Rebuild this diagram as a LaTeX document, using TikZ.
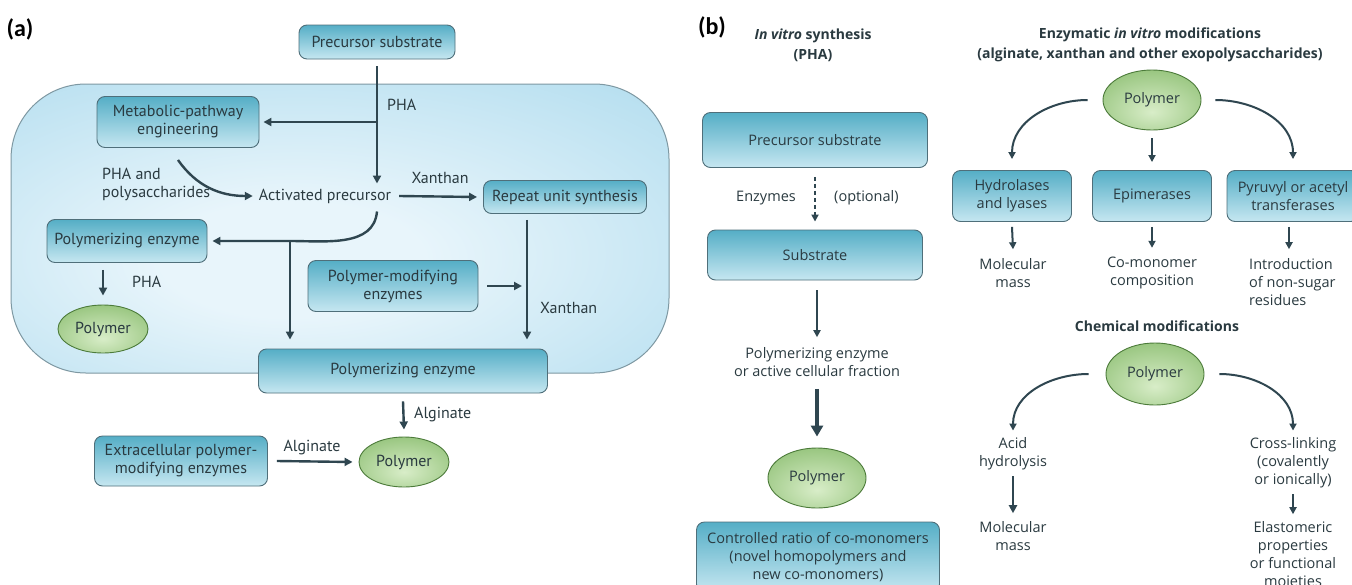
\documentclass[tikz,border=0pt]{standalone}
\usepackage{fontspec}
\setmainfont{PT Sans}
\newfontfamily\rfont{Open Sans}
\newfontfamily\labfont{Carlito}
\usetikzlibrary{arrows.meta,shapes.geometric}
\definecolor{boxtop}{HTML}{55AEC6}
\definecolor{boxbot}{HTML}{C6E7F1}
\definecolor{boxline}{HTML}{4F6F7A}
\definecolor{arrc}{HTML}{2F4650}
\definecolor{txt}{HTML}{2A3A40}
\definecolor{cellin}{HTML}{E8F5FB}
\definecolor{cellout}{HTML}{95D0E8}
\definecolor{cellline}{HTML}{7E98A2}
\definecolor{grin}{HTML}{D8EDC8}
\definecolor{grout}{HTML}{65A645}
\definecolor{grline}{HTML}{4C7B3A}
\pgfdeclareradialshading{cellshade}{\pgfpoint{-4bp}{-6bp}}{color(0bp)=(cellin); color(10bp)=(cellin); color(45bp)=(cellout!75!cellin); color(60bp)=(cellout); color(100bp)=(cellout)}
\pgfdeclareradialshading{polyshade}{\pgfpoint{0bp}{-10bp}}{color(0bp)=(grin); color(38bp)=(grout!65!grin); color(50bp)=(grout); color(100bp)=(grout)}
\begin{document}
\begin{tikzpicture}[x=1pt,y=-1pt,
  lt/.style={font=\fontsize{16}{18}\selectfont, text=txt, inner sep=2pt},
  rf/.style={font=\rfont\fontsize{14.5}{18}\selectfont, text=txt, inner sep=2pt, align=center},
  rtitle/.style={font=\rfont\bfseries\fontsize{14}{20}\selectfont, text=txt, inner sep=2pt, align=center},
  boxbase/.style={draw=boxline, line width=0.9pt, rounded corners=8pt, top color=boxtop, bottom color=boxbot, text=txt, align=center, inner sep=2pt},
  lbox/.style={boxbase, font=\fontsize{16}{18}\selectfont},
  rbox/.style={boxbase, font=\rfont\fontsize{14.5}{18}\selectfont},
  poly/.style={ellipse, draw=grline, line width=0.9pt, shade, shading=polyshade, text=txt, inner sep=0pt},
  arr/.style={draw=arrc, line width=2.4pt, -{Triangle[length=8pt,width=8pt]}},
  rarr/.style={draw=arrc, line width=2pt, -{Triangle[length=7pt,width=7pt]}},
  rarrb/.style={draw=arrc, line width=2.6pt, -{Triangle[length=8pt,width=8pt]}},
  rthick/.style={draw=arrc, line width=4pt, -{Triangle[length=11pt,width=12pt]}},
  lab/.style={font=\labfont\bfseries\fontsize{24}{26}\selectfont, text=black}
]
\useasboundingbox (0,0) rectangle (1352,584);
\clip (0,0) rectangle (1352,584);
\fill[white] (0,0) rectangle (1352,584);

% ---------------- panel (a) ----------------
\node[lab] (la) at (20,29) {(a)};
\path[shade, shading=cellshade, draw=cellline, line width=1pt, rounded corners=75pt] (11,84) rectangle (669,373);
\node[lbox, minimum width=156pt, minimum height=34pt] (ps) at (377,42) {Precursor substrate};
\node[lbox, minimum width=162pt, minimum height=51pt] (mpe) at (178,122) {Metabolic-pathway\\engineering};
\node[lt] (act) at (325,196) {Activated precursor};
\node[lbox, minimum width=163pt, minimum height=33pt] (rus) at (565,197) {Repeat unit synthesis};
\node[lbox, minimum width=160pt, minimum height=43pt] (pe1) at (127,241) {Polymerizing enzyme};
\node[lbox, minimum width=170pt, minimum height=51pt] (pme) at (393,286) {Polymer-modifying\\enzymes};
\node[poly, font=\fontsize{16}{18}\selectfont, minimum width=90pt, minimum height=48pt] (pol1) at (103,329) {Polymer};
\node[lbox, minimum width=289pt, minimum height=44pt] (pe2) at (403,371) {Polymerizing enzyme};
\node[poly, font=\fontsize{16}{18}\selectfont, minimum width=90pt, minimum height=50pt] (pol2) at (404,462) {Polymer};
\node[lbox, minimum width=173pt, minimum height=50pt] (epm) at (181,461) {Extracellular polymer-\\modifying enzymes};

\draw[arr, shorten >=3pt] ([yshift=-7pt]ps.south) -- (ps.south |- act.north);
\coordinate (br) at (ps.south |- mpe.east);
\draw[arr] (br) -- ([xshift=4pt]mpe.east);
\node[lt, anchor=west] (lpha1) at (385,105) {PHA};
\draw[arr] ([yshift=-12pt]mpe.south) to[out=-55,in=180] ([xshift=-4pt]act.west);
\node[lt, anchor=west, align=left] (lphap) at (100,184) {PHA and\\polysaccharides};
\draw[arr] ([xshift=6pt]act.east) -- ([xshift=-6pt]rus.west);
\node[lt] (lx1) at (440,178) {Xanthan};
\coordinate (jn) at (290,241);
\draw[arr] ([yshift=-6pt]act.south -| ps.south) to[out=-95,in=0] (jn) -- ([xshift=5pt]pe1.east);
\draw[arr] (jn) -- ([yshift=9pt]pe2.north -| jn);
\coordinate (xr) at ([xshift=-38pt]rus.south);
\draw[arr] ([yshift=-6pt]xr) -- ([yshift=9pt]xr |- pe2.north);
\draw[arr] ([xshift=9pt]pme.east) -- ([xshift=-5pt]pme.east -| xr);
\node[lt, anchor=west] (lx2) at (538,308) {Xanthan};
\draw[arr] ([yshift=-7pt]pe1.south -| pol1.north) -- ([yshift=9pt]pol1.north);
\node[lt, anchor=west] (lpha2) at (130,282) {PHA};
\draw[arr] ([yshift=-8pt]pe2.south) -- ([yshift=7pt]pol2.north);
\node[lt, anchor=west] (lal1) at (412,415) {Alginate};
\draw[arr] ([xshift=9pt]epm.east) -- ([xshift=-6pt]pol2.west);
\node[lt] (lal2) at (312,448) {Alginate};

% ---------------- panel (b) ----------------
\node[lab] (lb) at (712,27) {(b)};
\node[rtitle] (tvit) at (813,45) {\textit{In vitro} synthesis\\(PHA)};
\node[rbox, minimum width=225pt, minimum height=55pt] (rps) at (815,140) {Precursor substrate};
\node[rbox, minimum width=215pt, minimum height=50pt] (rsub) at (815,255) {Substrate};
\draw[rarr, dash pattern=on 4pt off 3pt] ([yshift=-9pt]rps.south) -- ([yshift=8pt]rsub.north);
\node[rf, anchor=east] (renz) at (798,198) {Enzymes};
\node[rf, anchor=west] (ropt) at (832,198) {(optional)};
\node[rf] (rpe) at (817,362) {Polymerizing enzyme\\or active cellular fraction};
\draw[rarr] ([yshift=-10pt]rsub.south -| rpe.north) -- ([yshift=8pt]rpe.north);
\node[poly, rf, minimum width=98pt, minimum height=60pt] (rpol) at (817,478) {Polymer};
\draw[rthick] ([yshift=-10pt]rpe.south) -- ([yshift=11pt]rpol.north);
\node[rbox, minimum width=243pt, minimum height=70pt] (rcr) at (818,557) {Controlled ratio of co-monomers\\(novel homopolymers and\\new co-monomers)};

\node[rtitle] (tenz) at (1150,45) {Enzymatic \textit{in vitro} modifications\\(alginate, xanthan and other exopolysaccharides)};
\node[poly, rf, minimum width=98pt, minimum height=60pt] (ep) at (1152,100) {Polymer};
\node[rbox, minimum width=119pt, minimum height=51pt] (hyd) at (1012,196) {Hydrolases\\and lyases};
\node[rbox, minimum width=119pt, minimum height=51pt] (epi) at (1152,196) {Epimerases};
\node[rbox, minimum width=132pt, minimum height=51pt] (pyr) at (1293,196) {Pyruvyl or acetyl\\transferases};
\draw[rarr] ([xshift=-15pt]ep.west) to[out=180,in=90] ([yshift=11pt]hyd.north);
\draw[rarr] ([xshift=14pt]ep.east) to[out=0,in=90] ([yshift=11pt]pyr.north);
\draw[rarr] ([yshift=-8pt]ep.south) -- ([yshift=8pt]epi.north);
\node[rf] (t1) at (1013,273) {Molecular\\mass};
\node[rf] (t2) at (1152,273) {Co-monomer\\composition};
\node[rf, anchor=west, align=left] (t3) at (1247,282) {Introduction\\of non-sugar\\residues};
\draw[rarr] ([yshift=-5pt]hyd.south) -- ([yshift=7pt]t1.north);
\draw[rarr] ([yshift=-5pt]epi.south) -- ([yshift=7pt]t2.north);
\draw[rarr] ([yshift=-5pt]pyr.south -| 1289,0) -- ([yshift=7pt]t1.north -| 1289,0);

\node[rtitle] (tchem) at (1157,326) {Chemical modifications};
\node[poly, rf, minimum width=98pt, minimum height=62pt] (cp) at (1155,374) {Polymer};
\node[rf] (t4) at (1013,454) {Acid\\hydrolysis};
\node[rf] (t5) at (1013,536) {Molecular\\mass};
\node[rf] (t6) at (1293,463) {Cross-linking\\(covalently\\or ionically)};
\node[rf] (t7) at (1293,554) {Elastomeric\\properties\\or functional\\moieties};
\draw[rarr] ([xshift=-17pt]cp.west) to[out=180,in=90] ([yshift=5pt]t4.north);
\draw[rarr] ([xshift=15pt]cp.east) to[out=0,in=90] ([yshift=5pt]t6.north);
\draw[rarrb] ([yshift=-4pt]t4.south) -- ([yshift=6pt]t5.north);
\draw[rarr] ([yshift=-4pt]t6.south) -- ([yshift=5pt]t7.north);
\end{tikzpicture}
\end{document}
